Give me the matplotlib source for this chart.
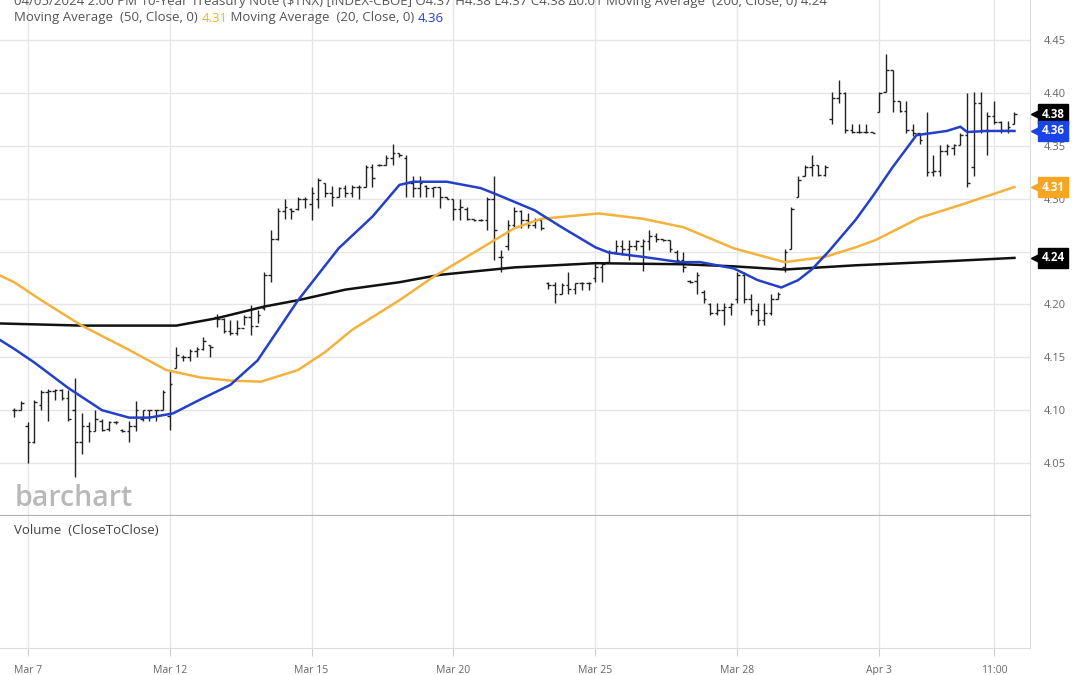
import matplotlib
matplotlib.use("Agg")
import matplotlib.pyplot as plt
import matplotlib.transforms as mtransforms
import numpy as np

plt.rcParams['font.family'] = ['Open Sans', 'DejaVu Sans']

# hourly OHLC bars, 10-Year Treasury Note ($TNX), Mar 6 13:00 .. Apr 5 14:00
opens = [4.100, 4.100, 4.085, 4.070, 4.105, 4.117, 4.118, 4.119, 4.112, 4.100,
         4.070, 4.085, 4.080, 4.090, 4.082, 4.089, 4.081, 4.080, 4.085, 4.092,
         4.100, 4.100, 4.100, 4.095, 4.140, 4.150, 4.150, 4.156, 4.158, 4.162,
         4.188, 4.186, 4.175, 4.173, 4.178, 4.188, 4.180, 4.197, 4.228, 4.262,
         4.288, 4.290, 4.290, 4.300, 4.295, 4.300, 4.315, 4.305, 4.302, 4.310,
         4.305, 4.311, 4.311, 4.330, 4.332, 4.332, 4.338, 4.343, 4.338, 4.315,
         4.310, 4.312, 4.310, 4.311, 4.302, 4.300, 4.290, 4.290, 4.281, 4.280,
         4.280, 4.300, 4.245, 4.255, 4.275, 4.288, 4.280, 4.275, 4.280, 4.220,
         4.218, 4.210, 4.218, 4.215, 4.220, 4.220, 4.225, 4.235, 4.240, 4.250,
         4.255, 4.252, 4.255, 4.255, 4.260, 4.265, 4.262, 4.261, 4.250, 4.242,
         4.222, 4.222, 4.212, 4.200, 4.192, 4.195, 4.198, 4.205, 4.228, 4.205,
         4.195, 4.185, 4.192, 4.205, 4.235, 4.252, 4.302, 4.321, 4.330, 4.332,
         4.322, 4.375, 4.395, 4.400, 4.365, 4.363, 4.363, 4.363, 4.382, 4.401,
         4.422, 4.392, 4.383, 4.365, 4.362, 4.362, 4.325, 4.326, 4.345, 4.348,
         4.351, 4.360, 4.330, 4.390, 4.365, 4.378, 4.372, 4.365, 4.371]
highs = [4.102, 4.109, 4.089, 4.110, 4.119, 4.120, 4.120, 4.120, 4.119, 4.130,
         4.097, 4.089, 4.100, 4.092, 4.090, 4.090, 4.082, 4.090, 4.109, 4.100,
         4.100, 4.100, 4.119, 4.138, 4.160, 4.152, 4.158, 4.160, 4.169, 4.162,
         4.191, 4.187, 4.185, 4.185, 4.190, 4.199, 4.195, 4.231, 4.270, 4.291,
         4.300, 4.291, 4.302, 4.302, 4.311, 4.320, 4.315, 4.312, 4.311, 4.313,
         4.313, 4.313, 4.332, 4.333, 4.333, 4.341, 4.352, 4.343, 4.341, 4.321,
         4.321, 4.313, 4.311, 4.311, 4.302, 4.300, 4.300, 4.292, 4.281, 4.281,
         4.302, 4.321, 4.251, 4.280, 4.292, 4.289, 4.286, 4.282, 4.280, 4.221,
         4.221, 4.220, 4.231, 4.220, 4.221, 4.221, 4.240, 4.240, 4.251, 4.261,
         4.261, 4.261, 4.261, 4.262, 4.270, 4.268, 4.262, 4.261, 4.251, 4.250,
         4.223, 4.231, 4.214, 4.201, 4.201, 4.201, 4.201, 4.231, 4.231, 4.210,
         4.201, 4.201, 4.210, 4.212, 4.252, 4.292, 4.321, 4.332, 4.341, 4.332,
         4.332, 4.401, 4.412, 4.401, 4.371, 4.371, 4.371, 4.363, 4.401, 4.437,
         4.422, 4.392, 4.392, 4.371, 4.362, 4.382, 4.341, 4.351, 4.352, 4.352,
         4.362, 4.400, 4.401, 4.401, 4.382, 4.392, 4.373, 4.373, 4.382]
lows = [4.094, 4.100, 4.050, 4.069, 4.100, 4.090, 4.110, 4.110, 4.090, 4.037,
        4.059, 4.070, 4.080, 4.080, 4.080, 4.087, 4.079, 4.070, 4.080, 4.090,
        4.090, 4.090, 4.100, 4.081, 4.140, 4.147, 4.147, 4.150, 4.157, 4.150,
        4.179, 4.173, 4.171, 4.171, 4.181, 4.171, 4.182, 4.195, 4.221, 4.261,
        4.281, 4.281, 4.289, 4.291, 4.280, 4.291, 4.302, 4.293, 4.302, 4.302,
        4.302, 4.300, 4.311, 4.311, 4.331, 4.332, 4.332, 4.339, 4.302, 4.302,
        4.302, 4.302, 4.302, 4.291, 4.300, 4.280, 4.280, 4.280, 4.279, 4.279,
        4.270, 4.242, 4.231, 4.251, 4.272, 4.272, 4.272, 4.272, 4.270, 4.215,
        4.201, 4.210, 4.210, 4.210, 4.214, 4.214, 4.221, 4.221, 4.239, 4.248,
        4.247, 4.242, 4.251, 4.232, 4.251, 4.259, 4.260, 4.250, 4.239, 4.231,
        4.220, 4.210, 4.201, 4.190, 4.190, 4.181, 4.190, 4.201, 4.201, 4.190,
        4.181, 4.181, 4.190, 4.205, 4.231, 4.252, 4.302, 4.321, 4.321, 4.321,
        4.321, 4.371, 4.390, 4.362, 4.362, 4.362, 4.362, 4.362, 4.382, 4.401,
        4.382, 4.382, 4.362, 4.359, 4.352, 4.321, 4.321, 4.321, 4.341, 4.341,
        4.351, 4.311, 4.321, 4.362, 4.341, 4.371, 4.362, 4.362, 4.371]
closes = [4.100, 4.107, 4.070, 4.108, 4.117, 4.118, 4.119, 4.112, 4.092, 4.070,
          4.085, 4.080, 4.092, 4.081, 4.089, 4.089, 4.080, 4.085, 4.100, 4.100,
          4.100, 4.100, 4.117, 4.125, 4.152, 4.150, 4.156, 4.158, 4.165, 4.160,
          4.186, 4.175, 4.173, 4.178, 4.188, 4.180, 4.190, 4.228, 4.262, 4.288,
          4.292, 4.288, 4.300, 4.300, 4.305, 4.318, 4.305, 4.302, 4.310, 4.305,
          4.311, 4.311, 4.330, 4.320, 4.332, 4.338, 4.343, 4.341, 4.315, 4.310,
          4.315, 4.310, 4.311, 4.302, 4.300, 4.290, 4.292, 4.281, 4.280, 4.280,
          4.300, 4.270, 4.245, 4.275, 4.288, 4.280, 4.275, 4.280, 4.272, 4.218,
          4.210, 4.218, 4.215, 4.220, 4.220, 4.220, 4.235, 4.238, 4.250, 4.255,
          4.252, 4.255, 4.260, 4.260, 4.265, 4.262, 4.261, 4.252, 4.242, 4.235,
          4.221, 4.228, 4.205, 4.192, 4.195, 4.198, 4.200, 4.228, 4.205, 4.195,
          4.185, 4.192, 4.205, 4.210, 4.250, 4.290, 4.318, 4.330, 4.332, 4.322,
          4.330, 4.395, 4.400, 4.365, 4.363, 4.363, 4.363, 4.362, 4.400, 4.422,
          4.392, 4.383, 4.365, 4.362, 4.355, 4.325, 4.326, 4.345, 4.350, 4.351,
          4.360, 4.315, 4.390, 4.365, 4.378, 4.372, 4.365, 4.368, 4.380]

# moving averages (bar position, value)
ma20_x = [-2, 0, 3, 8, 13, 17, 20, 23.5, 27.5, 32, 36, 42, 48, 53, 57, 59, 64, 69, 71,
          74, 77, 81, 86, 88, 93, 98.5, 101.5, 106.5, 110, 113.5, 116, 118, 120.5,
          124.5, 127, 130, 133.5, 138, 140, 141, 144, 148]
ma20_y = [4.166, 4.158, 4.145, 4.121, 4.100, 4.093, 4.093, 4.097, 4.110, 4.124, 4.147,
          4.204, 4.253, 4.283, 4.313, 4.316, 4.316, 4.310, 4.305, 4.297, 4.289, 4.273,
          4.254, 4.249, 4.245, 4.240, 4.240, 4.234, 4.223, 4.216, 4.223, 4.233, 4.250,
          4.280, 4.302, 4.330, 4.360, 4.364, 4.368, 4.363, 4.364, 4.364]
ma50_x = [-2, 0, 4, 10, 17, 22.5, 27.5, 32, 36.5, 42, 46, 50, 57, 62, 68, 74, 78, 86.5,
          93, 99, 106.5, 114, 120, 124.5, 127.5, 134, 140, 148]
ma50_y = [4.227, 4.221, 4.204, 4.180, 4.157, 4.138, 4.131, 4.128, 4.127, 4.138, 4.155,
          4.176, 4.204, 4.226, 4.249, 4.272, 4.281, 4.286, 4.281, 4.273, 4.253, 4.240,
          4.245, 4.254, 4.261, 4.282, 4.294, 4.311]
ma200_x = [-2, 10, 24, 30, 37, 42, 49, 57, 63, 74, 86, 99, 106.5, 114, 124.5, 138.5, 148]
ma200_y = [4.182, 4.180, 4.180, 4.187, 4.198, 4.204, 4.214, 4.221, 4.228, 4.235, 4.239,
           4.238, 4.236, 4.233, 4.237, 4.241, 4.244]

tick_pos = [2, 23, 44, 65, 86, 107, 128, 145]
tick_labels = ["Mar 7", "Mar 12", "Mar 15", "Mar 20", "Mar 25", "Mar 28", "Apr 3", "11:00"]
price_ticks = [4.05, 4.10, 4.15, 4.20, 4.25, 4.30, 4.35, 4.40, 4.45]

blue = "#2340c8"
orange = "#f3b23c"
grid = "#e6e6e6"
hdr = 9.5

fig = plt.figure(figsize=(10.8, 6.75), dpi=100)
ax = fig.add_axes([0.0, 1 - 516 / 675, 1030 / 1080, 516 / 675])
axv = fig.add_axes([0.0, 1 - 648 / 675, 1030 / 1080, 132 / 675])

xl = (-2.1, 150.3)

# price panel
idx = np.arange(len(closes))
ax.vlines(idx, lows, highs, color="#222222", lw=1.0)
ax.hlines(opens, idx - 0.38, idx, color="#222222", lw=1.0)
ax.hlines(closes, idx, idx + 0.38, color="#222222", lw=1.0)

ax.plot(ma200_x, ma200_y, color="#111111", lw=1.8)
ax.plot(ma50_x, ma50_y, color=orange, lw=1.8)
ax.plot(ma20_x, ma20_y, color=blue, lw=1.8)

ax.set_xlim(*xl)
ax.set_ylim(4.0, 4.4878)
ax.set_xticks(tick_pos)
ax.set_yticks(price_ticks)
ax.set_yticklabels(["%.2f" % p for p in price_ticks])
ax.yaxis.tick_right()
ax.tick_params(axis="x", length=0, labelbottom=False)
ax.tick_params(axis="y", length=0, pad=10, labelsize=8, labelcolor="#666666")
ax.grid(True, color=grid, lw=1)
ax.set_axisbelow(True)
for s in ["top", "left"]:
    ax.spines[s].set_visible(False)
ax.spines["right"].set_color("#dddddd")
ax.spines["bottom"].set_color("#b0b0b0")
ax.spines["bottom"].set_linewidth(1.6)

# value tags on the right
trans = mtransforms.blended_transform_factory(ax.transAxes, ax.transData)
tags = [(closes[-1], "#000000"), (ma20_y[-1], "#1a44e6"),
        (ma50_y[-1], "#f5a623"), (ma200_y[-1], "#000000")]
for val, col in tags:
    ax.plot([1.0 + 9 / 1030], [val], marker="<", ms=11.5, color=col, mec=col,
            transform=trans, clip_on=False, zorder=5)
    ax.annotate("%.2f" % val, xy=(1.0, val), xycoords=("axes fraction", "data"),
                xytext=(16.5, 0), textcoords="offset points", ha="center", va="center",
                fontsize=8.3, fontweight="bold", color="white", zorder=6,
                bbox=dict(boxstyle="square,pad=0.28", fc=col, ec=col))

ax.text(15 / 1030, 10 / 516, "barchart", transform=ax.transAxes, fontsize=20.5,
        color="#b8b8b8", fontweight="semibold", ha="left", va="baseline")

# header legend
fig.text(14 / 1080, 1 - 1 / 675,
         "04/05/2024 2:00 PM 10-Year Treasury Note ($TNX) [INDEX-CBOE] O4.37 H4.38 L4.37 C4.38 "
         "\u03940.01 Moving Average  (200, Close, 0) 4.24",
         fontsize=hdr, color="#555555", ha="left", va="center")
leg_y = 1 - 18 / 675
parts = [("Moving Average  (50, Close, 0) ", "#555555"), ("4.31", orange),
         (" Moving Average  (20, Close, 0) ", "#555555"), ("4.36", blue)]
t = fig.text(14 / 1080, leg_y, parts[0][0], fontsize=hdr, color=parts[0][1], va="center")
fig.canvas.draw()
for txt, col in parts[1:]:
    t = ax.annotate(txt, xycoords=t, xy=(1, 0.5), va="center", ha="left",
                    fontsize=hdr, color=col)

# volume panel
axv.set_xlim(*xl)
axv.set_ylim(0, 1)
axv.set_xticks(tick_pos)
axv.set_xticklabels(tick_labels)
axv.set_yticks([])
axv.tick_params(axis="x", length=6, color="#cccccc", labelsize=7.5, labelcolor="#666666", pad=6)
axv.grid(True, axis="x", color=grid, lw=1)
for s in ["top", "left"]:
    axv.spines[s].set_visible(False)
axv.spines["right"].set_color("#dddddd")
axv.spines["bottom"].set_color("#dddddd")
axv.text(14 / 1030, 1 - 14 / 132, "Volume  (CloseToClose)", transform=axv.transAxes,
         fontsize=9.5, color="#444444", va="center", ha="left")

fig.savefig("out.png", dpi=100)
